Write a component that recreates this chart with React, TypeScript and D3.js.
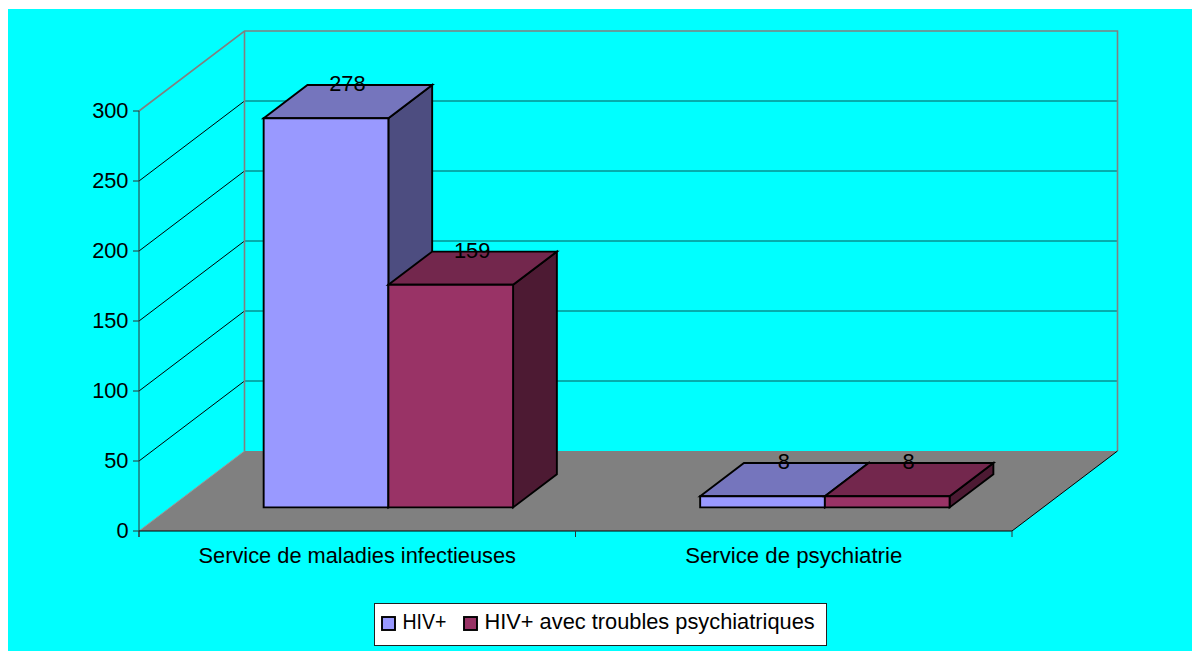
import React from "react";
import * as d3 from "d3";

const categories = ["Service de maladies infectieuses", "Service de psychiatrie"];
const seriesNames = ["HIV+", "HIV+ avec troubles psychiatriques"];
const hivValues = [278, 8];
const hivPsychValues = [159, 8];
const seriesValues = [hivValues, hivPsychValues];
const yTicks = [0, 50, 100, 150, 200, 250, 300];

const faceColors = [
  { front: "#9999FF", top: "#7575BD", side: "#4D4D80" },
  { front: "#993366", top: "#73274D", side: "#4D1A33" },
];

const WIDTH = 1192;
const HEIGHT = 651;
const FONT = "'Liberation Sans', Arial, sans-serif";

const x0 = 139;
const x1 = 1012;
const yBottom = 531;
const yTop = 111;
// Oblique projection: full floor depth maps to this screen offset.
const depthX = 105.5;
const depthY = -80;
// The bars occupy this slice of the floor depth.
const zFront = 0.295;
const zBack = 0.71;

const y = d3.scaleLinear().domain([0, 300]).range([yBottom, yTop]);
const xCat = d3.scaleBand<string>().domain(categories).range([x0, x1]);
// Each category band holds two bars and 0.75 of a bar's width on either side.
const barSpan = xCat.bandwidth() / 3.5;
const xSeries = d3
  .scaleBand<number>()
  .domain([0, 1])
  .range([barSpan * 0.75, barSpan * 2.75]);

const project = (px: number, py: number, z: number): [number, number] => [
  px + depthX * z,
  py + depthY * z,
];

const poly = (pts: [number, number][]) => d3.line()(pts) + "Z";

function Bar({ cat, s, value }: { cat: string; s: number; value: number }) {
  const left = (xCat(cat) as number) + (xSeries(s) as number);
  const right = left + xSeries.bandwidth();
  const top = y(value);
  const c = faceColors[s];
  const fl = project(left, top, zFront);
  const fr = project(right, top, zFront);
  const flb = project(left, yBottom, zFront);
  const frb = project(right, yBottom, zFront);
  const bl = project(left, top, zBack);
  const br = project(right, top, zBack);
  const brb = project(right, yBottom, zBack);
  const stroke = { stroke: "#000", strokeWidth: 1.9, strokeLinejoin: "miter" as const };
  return (
    <g>
      <path d={poly([fr, br, brb, frb])} fill={c.side} {...stroke} />
      <path d={poly([fl, bl, br, fr])} fill={c.top} {...stroke} />
      <path d={poly([fl, fr, frb, flb])} fill={c.front} {...stroke} />
    </g>
  );
}

function BarLabel({ cat, s, value }: { cat: string; s: number; value: number }) {
  const mid = (xCat(cat) as number) + (xSeries(s) as number) + xSeries.bandwidth() / 2;
  const lx = project(mid, 0, (zFront + zBack) / 2)[0];
  const ly = project(mid, y(value), zBack)[1];
  return (
    <text x={lx - 0.5} y={ly + 6} textAnchor="middle" fontSize={21.8} fill="#000">
      {value}
    </text>
  );
}

export default function App() {
  const wallTop = project(x0, y(300), 1);
  const wallBottom = project(x0, yBottom, 1);
  const rightTop = project(x1, y(300), 1);
  const rightBottom = project(x1, yBottom, 1);
  const gridTicks = yTicks.filter((t) => t > 0 && t < 300);

  return (
    <svg
      width={WIDTH}
      height={HEIGHT}
      style={{ position: "absolute", left: 0, top: 0, display: "block" }}
      fontFamily={FONT}
    >
      <rect x={0} y={0} width={WIDTH} height={HEIGHT} fill="#fff" />
      <rect x={8} y={9} width={WIDTH - 8} height={HEIGHT - 9} fill="#00FFFF" />

      {/* floor */}
      <path
        d={poly([[x0, yBottom], wallBottom, rightBottom, [x1, yBottom]])}
        fill="#808080"
      />

      {/* gridlines across the side wall and the back wall */}
      {gridTicks.map((t) => {
        const a = project(x0, y(t), 1);
        const b = project(x1, y(t), 1);
        return (
          <g key={t}>
            <line x1={x0} y1={y(t)} x2={a[0]} y2={a[1]} stroke="#000" strokeWidth={1} />
            <line x1={a[0]} y1={a[1]} x2={b[0]} y2={b[1]} stroke="#0A5A5A" strokeWidth={1} />
          </g>
        );
      })}

      {/* wall frame */}
      <path
        d={d3.line()([[x0, y(300)], wallTop, rightTop, rightBottom])!}
        fill="none"
        stroke="#808080"
        strokeWidth={1.6}
      />
      <line x1={wallTop[0]} y1={wallTop[1]} x2={wallBottom[0]} y2={wallBottom[1]} stroke="#808080" strokeWidth={1.6} />
      <line x1={x0} y1={yBottom} x2={wallBottom[0]} y2={wallBottom[1]} stroke="#999" strokeWidth={1} />
      <line x1={x1} y1={yBottom} x2={rightBottom[0]} y2={rightBottom[1]} stroke="#000" strokeWidth={1} />

      {/* bars */}
      {categories.map((cat, ci) =>
        seriesValues.map((vals, s) => <Bar key={`${ci}-${s}`} cat={cat} s={s} value={vals[ci]} />)
      )}
      {categories.map((cat, ci) =>
        seriesValues.map((vals, s) => <BarLabel key={`${ci}-${s}`} cat={cat} s={s} value={vals[ci]} />)
      )}

      {/* value axis */}
      <line x1={x0} y1={y(300)} x2={x0} y2={yBottom + 6} stroke="#333" strokeWidth={1} />
      {yTicks.map((t) => (
        <g key={t}>
          <line x1={x0 - 6} y1={y(t)} x2={x0} y2={y(t)} stroke="#333" strokeWidth={1} />
          <text x={x0 - 10.5} y={y(t) + 7} textAnchor="end" fontSize={21.8} fill="#000">
            {t}
          </text>
        </g>
      ))}

      {/* category axis */}
      <line x1={x0} y1={yBottom} x2={x1} y2={yBottom} stroke="#000" strokeWidth={1} />
      {[x0, x0 + xCat.bandwidth(), x1].map((tx) => (
        <line key={tx} x1={tx} y1={yBottom} x2={tx} y2={yBottom + 6} stroke="#333" strokeWidth={1} />
      ))}
      {categories.map((cat, i) => (
        <text
          key={cat}
          x={(xCat(cat) as number) + xCat.bandwidth() / 2}
          y={563}
          textAnchor="middle"
          fontSize={i === 0 ? 21.8 : 22.2}
          fill="#000"
        >
          {cat}
        </text>
      ))}

      {/* legend */}
      <rect x={374.5} y={603.5} width={452} height={42} fill="#fff" stroke="#222" strokeWidth={1} />
      {seriesNames.map((name, i) => {
        const sx = i === 0 ? 382 : 464;
        return (
          <g key={name}>
            <rect x={sx} y={617} width={13} height={13} fill={faceColors[i].front} stroke="#000" strokeWidth={1.9} />
            <text
              x={sx + 20.5}
              y={629}
              fontSize={21.8}
              fill="#000"
              textLength={i === 0 ? 44 : undefined}
              lengthAdjust={i === 0 ? "spacingAndGlyphs" : undefined}
            >
              {name}
            </text>
          </g>
        );
      })}
    </svg>
  );
}
